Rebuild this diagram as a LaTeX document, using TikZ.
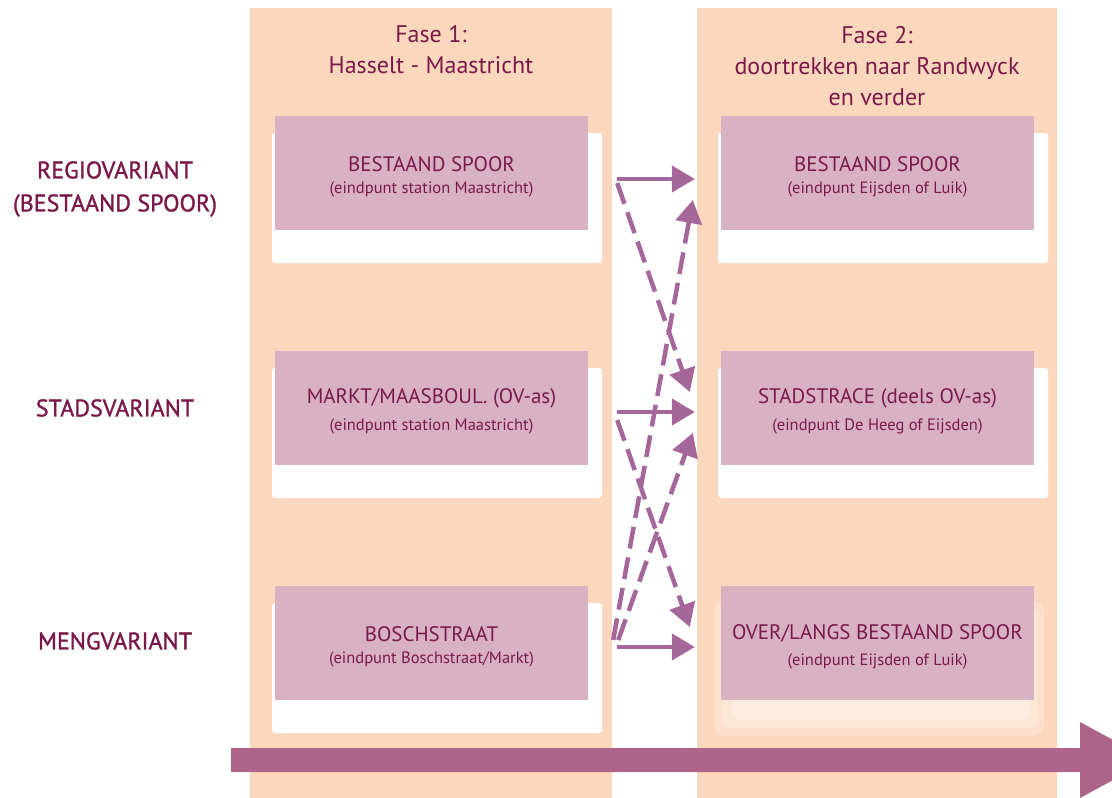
\documentclass[tikz,border=0pt]{standalone}
\usepackage{fontspec}
\setmainfont{PT Sans}
\newfontfamily\labelfont[FakeBold=1.2]{PT Sans}
\usetikzlibrary{arrows.meta}
\definecolor{peach}{HTML}{FBD8BD}
\definecolor{pinkfill}{HTML}{D8B1C3}
\definecolor{txt}{HTML}{7A1848}
\definecolor{arrcol}{HTML}{A5669A}
\definecolor{bigarr}{HTML}{AE6489}
\definecolor{glowA}{HTML}{FCE0CB}
\definecolor{glowB}{HTML}{FCE7D7}
\definecolor{glowC}{HTML}{FDEDE1}
\newcommand{\boxtitle}[1]{{\fontsize{21}{25}\selectfont #1}}
\newcommand{\boxsub}[1]{{\fontsize{16.5}{18}\selectfont #1}}
\begin{document}
\begin{tikzpicture}[x=1pt,y=-1pt,
  pbox/.style={fill=pinkfill, minimum width=313pt, minimum height=114pt, inner sep=0pt},
  boxtext/.style={text=txt, align=center, inner sep=0pt},
  wbox/.style={fill=white, rounded corners=3pt},
  phase/.style={text=txt, align=center, font=\fontsize{24}{31}\selectfont},
  rowlabel/.style={text=txt, align=center, font=\labelfont\fontsize{24}{33}\selectfont},
  arrowline/.style={draw=arrcol, line width=4.5pt, -{Triangle[length=23pt,width=26pt]}},
  dashline/.style={arrowline, dash pattern=on 22pt off 9pt}]
\useasboundingbox (0,0) rectangle (1112,798);
\clip (0,0) rectangle (1112,798);
% columns
\fill[peach] (250,8) rectangle (612,798);
\fill[peach] (697,8) rectangle (1057,798);
% white backing boxes
\foreach \yy in {133,368,603} {
  \fill[wbox] (272,\yy) rectangle (602,\yy+130);
}
\foreach \yy in {133,368} {
  \fill[wbox] (718,\yy) rectangle (1048,\yy+130);
}
% faded backing box (row 3, right)
\fill[glowA, rounded corners=12pt] (714,600) rectangle (1044,736);
\fill[glowB, rounded corners=10pt] (722,606) rectangle (1038,728);
\fill[glowC, rounded corners=8pt] (732,612) rectangle (1030,720);
% phase titles
\node[phase] (P1) at (431,50) {Fase 1:\\Hasselt - Maastricht};
\node[phase] (P2) at (877,66) {Fase 2:\\doortrekken naar Randwyck\\en verder};
% row labels
\node[rowlabel] (R1lab) at (115,189) {REGIOVARIANT\\(BESTAAND SPOOR)};
\node[rowlabel] (R2lab) at (115,408) {STADSVARIANT};
\node[rowlabel] (R3lab) at (115,641) {MENGVARIANT};
% pink boxes
\node[pbox] (L1) at (431.5,173) {};
\node[pbox] (L2) at (431.5,408) {};
\node[pbox] (L3) at (431.5,643) {};
\node[pbox] (R1) at (877.5,173) {};
\node[pbox] (R2) at (877.5,408) {};
\node[pbox] (R3) at (877.5,643) {};
\node[boxtext] (L1t) at ([yshift=-3.5pt]L1.center) {\boxtitle{BESTAAND SPOOR}\\[10pt]\boxsub{(eindpunt station Maastricht)}};
\node[boxtext] (L2t) at ([yshift=-3.5pt]L2.center) {\boxtitle{MARKT/MAASBOUL. (OV-as)}\\[10pt]\boxsub{(eindpunt station Maastricht)}};
\node[boxtext] (L3t) at ([yshift=-3.5pt]L3.center) {\boxtitle{BOSCHSTRAAT}\\[10pt]\boxsub{(eindpunt Boschstraat/Markt)}};
\node[boxtext] (R1t) at ([yshift=-3.5pt]R1.center) {\boxtitle{BESTAAND SPOOR}\\[10pt]\boxsub{(eindpunt Eijsden of Luik)}};
\node[boxtext] (R2t) at ([yshift=-3.5pt]R2.center) {\boxtitle{STADSTRACE (deels OV-as)}\\[10pt]\boxsub{(eindpunt De Heeg of Eijsden)}};
\node[boxtext] (R3t) at ([yshift=-3.5pt]R3.center) {\boxtitle{OVER/LANGS BESTAAND SPOOR}\\[10pt]\boxsub{(eindpunt Eijsden of Luik)}};
% solid arrows
\draw[arrowline] ([xshift=29pt,yshift=-6pt]L1.east) -- ([xshift=-26pt,yshift=-6pt]R1.west);
\draw[arrowline] ([xshift=29pt,yshift=-4pt]L2.east) -- ([xshift=-26pt,yshift=-4pt]R2.west);
\draw[arrowline] ([xshift=29pt,yshift=-4pt]L3.east) -- ([xshift=-26pt,yshift=-4pt]R3.west);
% dashed arrows
\draw[dashline] ([xshift=29pt,yshift=-10pt]L1.east) -- ([xshift=-31pt,yshift=16pt]R2.west);
\draw[dashline] ([xshift=29pt,yshift=-12pt]L2.east) -- ([xshift=-31pt,yshift=16pt]R3.west);
\draw[dashline] ([xshift=25pt,yshift=3pt]L3.east) -- ([xshift=-28pt,yshift=-27pt]R1.west);
\draw[dashline] ([xshift=30pt,yshift=3pt]L3.east) -- ([xshift=-28pt,yshift=-25pt]R2.west);
% big time arrow
\fill[bigarr] (231,748) -- (1080,748) -- (1080,722) -- (1150,760) -- (1080,798) -- (1080,772) -- (231,772) -- cycle;
\end{tikzpicture}
\end{document}
